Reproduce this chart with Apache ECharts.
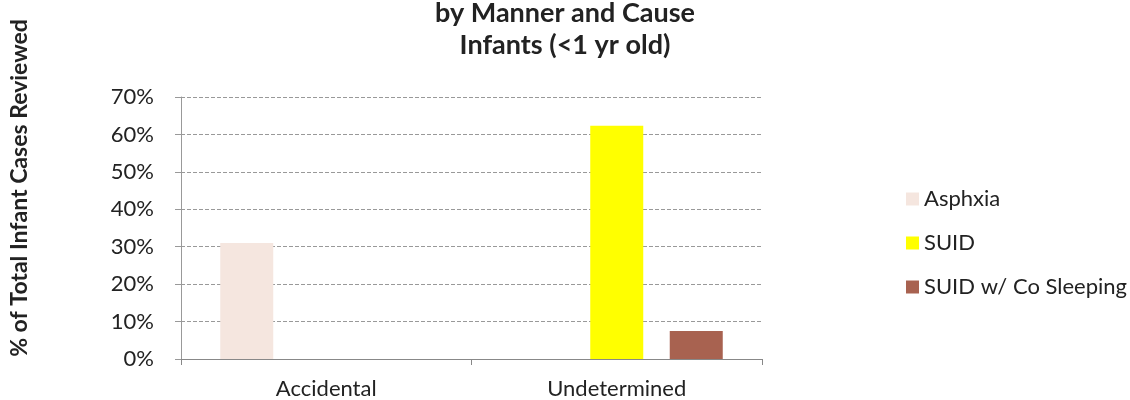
<!DOCTYPE html>
<html><head><meta charset="utf-8">
<script src="https://cdn.jsdelivr.net/npm/echarts@6/dist/echarts.min.js"></script>
<style>html,body{margin:0;padding:0;background:#fff}#c{width:1130px;height:400px}</style>
</head><body><div id="c"></div>
<script>
var categories = ['Accidental', 'Undetermined'];
var seriesNames = ['Asphxia', 'SUID', 'SUID w/ Co Sleeping'];
var asphxia = [31, null];
var suid = [null, 62.3];
var coSleeping = [null, 7.5];
var yTicks = [0, 10, 20, 30, 40, 50, 60, 70];
var colors = ['#f5e6df', '#ffff00', '#a86250'];
var font = 'Lato, "Open Sans", sans-serif';

var chart = echarts.init(document.getElementById('c'));
var data = [asphxia, suid, coSleeping];
chart.setOption({
  animation: false,
  title: {
    text: 'by Manner and Cause\nInfants (<1 yr old)',
    left: 'center', top: -8,
    textStyle: {fontFamily: font, fontSize: 27, fontWeight: 'bold', color: '#222', lineHeight: 32}
  },
  legend: {
    orient: 'vertical', left: 901, top: 183, itemGap: 22,
    itemWidth: 13, itemHeight: 13, icon: 'rect',
    textStyle: {fontFamily: font, fontSize: 22, color: '#222', lineHeight: 22},
    data: seriesNames
  },
  grid: {left: 177, right: 368, top: 97, bottom: 41, containLabel: false},
  xAxis: {
    type: 'category', data: categories,
    axisLine: {lineStyle: {color: '#888'}},
    axisTick: {show: true, alignWithLabel: false, length: 6, lineStyle: {color: '#888'}},
    axisLabel: {fontFamily: font, fontSize: 22, color: '#222', margin: 19}
  },
  yAxis: {
    type: 'value', min: yTicks[0], max: yTicks[yTicks.length - 1], interval: 10,
    name: '% of Total Infant Cases Reviewed', nameLocation: 'middle', nameGap: 150, nameRotate: 90,
    nameTextStyle: {fontFamily: font, fontSize: 23, fontWeight: 'bold', color: '#222', padding: [0, 0, 0, 80]},
    axisLine: {show: true, lineStyle: {color: '#999'}},
    axisTick: {show: true, length: 6, lineStyle: {color: '#999'}},
    axisLabel: {fontFamily: font, fontSize: 22, color: '#222', margin: 27, formatter: function (v) { return v + '%'; }},
    splitLine: {lineStyle: {color: '#999', type: 'dashed', width: 1}}
  },
  series: seriesNames.map(function (n, i) {
    return {name: n, type: 'bar', data: data[i], barWidth: 53, barGap: '50%',
      itemStyle: {color: colors[i]}};
  })
});
</script></body></html>
